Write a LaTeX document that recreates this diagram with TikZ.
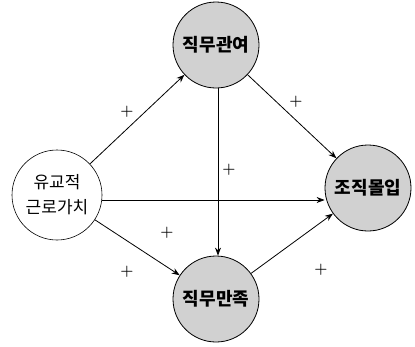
\documentclass[tikz,border=0pt]{standalone}
\usepackage{fontspec}
\newfontfamily\kr{Noto Sans CJK KR}
\usetikzlibrary{arrows.meta}
\begin{document}
\begin{tikzpicture}[x=1pt,y=-1pt,
  gcirc/.style={circle,draw=black,line width=0.8pt,fill=black!18,minimum size=86pt,inner sep=0pt,font=\kr\bfseries\fontsize{18}{20}\selectfont},
  wcirc/.style={circle,draw=black,line width=0.6pt,fill=white,minimum size=90pt,inner sep=0pt,align=center,font=\kr\fontsize{17}{25}\selectfont},
  arr/.style={-{Stealth[length=8pt,width=6pt]},line width=0.8pt},
  plus/.style={font=\bfseries\fontsize{15}{15}\selectfont}]
\useasboundingbox (0,0) rectangle (415,346);
\node[gcirc] (inv) at (216,45) {직무관여};
\node[wcirc] (val) at (57,195) {유교적\\근로가치};
\node[gcirc] (com) at (368,188) {조직몰입};
\node[gcirc] (sat) at (216,299) {직무만족};
\draw[arr] (val) -- (inv);
\draw[arr] (val) -- (sat);
\draw[arr] (val.east |- 0,200) -- (com.west |- 0,200);
\draw[arr] (inv.south -| 218,0) -- (sat.north -| 218,0);
\draw[arr] (inv) -- (com);
\draw[arr] (sat) -- (com);
\node[plus] (p1) at (127,112) {+};
\node[plus] (p2) at (127,272) {+};
\node[plus] (p3) at (167,233) {+};
\node[plus] (p4) at (229,170) {+};
\node[plus] (p5) at (296,102) {+};
\node[plus] (p6) at (321,270) {+};
\end{tikzpicture}
\end{document}
